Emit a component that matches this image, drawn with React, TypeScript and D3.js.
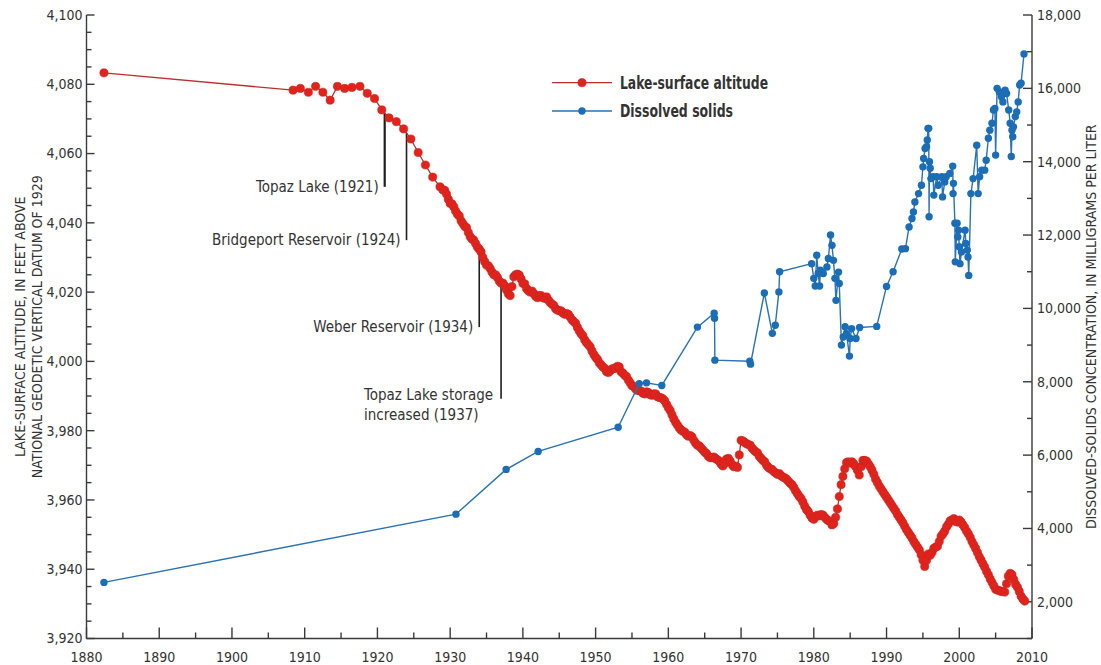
import React from "react";
import * as d3 from "d3";

// Lake-surface altitude, feet above NGVD 1929 — early annual readings
const lakeEarlyYears = [
  1882.4, 1908.4, 1909.4, 1910.5, 1911.5, 1912.5, 1913.5, 1914.5, 1915.5, 1916.5,
  1917.6, 1918.6, 1919.6, 1920.6, 1921.6, 1922.6, 1923.6, 1924.6, 1925.6, 1926.6,
  1927.6, 1928.6,
];
const lakeEarlyAltitudes = [
  4083.3, 4078.3, 4078.8, 4077.7, 4079.4, 4077.7, 4075.4, 4079.4, 4078.8, 4079.1,
  4079.4, 4077.4, 4075.9, 4072.6, 4070.3, 4069.2, 4067.1, 4064.2, 4060.3, 4056.7,
  4053.2, 4050.4,
];

// Quarterly record from 1929: [year, Q1, Q2, Q3, Q4]
const lakeQuarterly: number[][] = [
  [1929, 4049.5, 4049.4, 4048.3, 4046.8],
  [1930, 4045.6, 4045.5, 4044.6, 4043.4],
  [1931, 4042.5, 4042.0, 4040.6, 4039.8],
  [1932, 4039.0, 4038.6, 4037.2, 4036.0],
  [1933, 4035.3, 4035.0, 4034.0, 4033.0],
  [1934, 4032.4, 4031.6, 4030.0, 4028.8],
  [1935, 4027.8, 4027.6, 4026.8, 4025.8],
  [1936, 4025.0, 4025.0, 4024.2, 4023.2],
  [1937, 4022.6, 4022.6, 4021.8, 4020.6],
  [1938, 4019.5, 4019.0, 4021.6, 4024.4],
  [1939, 4025.0, 4025.2, 4024.9, 4023.8],
  [1940, 4022.5, 4022.4, 4021.0, 4020.4],
  [1941, 4020.0, 4020.3, 4019.6, 4018.8],
  [1942, 4018.4, 4019.0, 4019.0, 4018.4],
  [1943, 4018.2, 4018.6, 4017.7, 4017.0],
  [1944, 4016.5, 4016.2, 4015.2, 4014.8],
  [1945, 4014.6, 4014.6, 4014.0, 4013.6],
  [1946, 4013.8, 4013.6, 4012.8, 4012.0],
  [1947, 4011.5, 4011.0, 4009.8, 4008.8],
  [1948, 4008.0, 4007.4, 4006.2, 4005.4],
  [1949, 4004.8, 4004.2, 4003.0, 4002.0],
  [1950, 4001.2, 4000.6, 3999.6, 3999.0],
  [1951, 3998.4, 3998.0, 3997.0, 3996.8],
  [1952, 3997.3, 3997.8, 3998.0, 3998.0],
  [1953, 3998.6, 3998.4, 3997.0, 3996.6],
  [1954, 3996.0, 3995.6, 3994.6, 3993.8],
  [1955, 3993.0, 3992.8, 3992.0, 3991.6],
  [1956, 3991.6, 3991.4, 3990.8, 3990.6],
  [1957, 3991.2, 3991.0, 3990.4, 3990.2],
  [1958, 3990.6, 3990.6, 3989.8, 3989.6],
  [1959, 3989.5, 3989.2, 3988.6, 3987.6],
  [1960, 3986.6, 3985.8, 3984.6, 3983.4],
  [1961, 3982.4, 3981.6, 3980.8, 3980.2],
  [1962, 3979.8, 3979.6, 3978.8, 3978.4],
  [1963, 3978.6, 3978.2, 3977.2, 3976.4],
  [1964, 3975.8, 3975.6, 3975.0, 3974.4],
  [1965, 3973.8, 3973.4, 3972.6, 3972.2],
  [1966, 3972.2, 3972.4, 3971.9, 3971.6],
  [1967, 3971.2, 3970.4, 3969.8, 3970.6],
  [1968, 3971.8, 3972.0, 3971.2, 3970.2],
  [1969, 3969.6, 3969.8, 3969.4, 3973.0],
  [1970, 3977.2, 3977.0, 3976.6, 3976.2],
  [1971, 3976.0, 3975.8, 3975.0, 3974.4],
  [1972, 3973.9, 3973.6, 3972.6, 3972.0],
  [1973, 3971.4, 3971.0, 3970.0, 3969.4],
  [1974, 3969.0, 3968.8, 3968.2, 3967.8],
  [1975, 3967.4, 3967.6, 3967.0, 3966.6],
  [1976, 3966.4, 3966.0, 3965.4, 3964.8],
  [1977, 3964.4, 3963.6, 3962.6, 3961.8],
  [1978, 3961.0, 3960.4, 3959.4, 3958.2],
  [1979, 3957.2, 3956.6, 3955.6, 3954.8],
  [1980, 3954.4, 3955.2, 3955.6, 3955.4],
  [1981, 3955.8, 3955.6, 3955.0, 3954.4],
  [1982, 3954.0, 3953.8, 3952.8, 3953.2],
  [1983, 3955.0, 3957.4, 3961.0, 3964.4],
  [1984, 3966.8, 3969.0, 3970.8, 3971.0],
  [1985, 3970.6, 3971.0, 3970.4, 3969.6],
  [1986, 3968.6, 3967.2, 3969.6, 3971.4],
  [1987, 3971.4, 3971.2, 3970.4, 3969.6],
  [1988, 3968.6, 3967.4, 3966.0, 3965.0],
  [1989, 3964.0, 3963.2, 3962.4, 3961.6],
  [1990, 3960.8, 3960.0, 3959.2, 3958.4],
  [1991, 3957.6, 3956.8, 3955.8, 3955.0],
  [1992, 3954.2, 3953.4, 3952.4, 3951.4],
  [1993, 3950.6, 3949.8, 3949.0, 3948.0],
  [1994, 3947.2, 3946.4, 3945.6, 3944.2],
  [1995, 3942.6, 3940.8, 3942.6, 3944.4],
  [1996, 3944.0, 3944.8, 3946.0, 3946.4],
  [1997, 3946.6, 3948.0, 3949.5, 3950.2],
  [1998, 3951.0, 3952.2, 3953.0, 3954.0],
  [1999, 3954.2, 3954.6, 3953.8, 3953.6],
  [2000, 3954.2, 3953.6, 3952.8, 3952.0],
  [2001, 3951.0, 3950.2, 3949.2, 3948.0],
  [2002, 3947.0, 3946.0, 3944.8, 3943.6],
  [2003, 3942.6, 3941.6, 3940.6, 3939.4],
  [2004, 3938.4, 3937.2, 3936.2, 3935.2],
  [2005, 3934.2, 3934.0, 3933.8, 3933.6],
  [2006, 3933.6, 3933.4, 3935.8, 3938.0],
  [2007, 3938.8, 3938.4, 3937.0, 3935.6],
  [2008, 3934.8, 3933.6, 3932.2, 3931.4],
  [2009, 3930.8],
];

// Dissolved-solids concentration, milligrams per liter
const solidsYears = [
  1882.4, 1930.8, 1937.7, 1942.1, 1953.1, 1956.0, 1957.0, 1959.1, 1964.0, 1966.3,
  1966.35, 1966.4, 1971.2, 1971.3, 1973.2, 1974.3, 1974.7, 1975.2, 1975.3, 1979.7,
  1980.0, 1980.2, 1980.4, 1980.6, 1980.8, 1980.9, 1981.3, 1981.8, 1982.0, 1982.3,
  1982.5, 1982.7, 1982.9, 1983.05, 1983.4, 1983.5, 1983.8, 1984.05, 1984.3, 1984.5,
  1984.9, 1985.0, 1985.2, 1985.8, 1986.3, 1988.65, 1990.0, 1990.9, 1992.1, 1992.6,
  1993.1, 1993.5, 1993.7, 1993.9, 1994.4, 1994.8, 1995.0, 1995.1, 1995.3, 1995.5,
  1995.6, 1995.7, 1995.8, 1995.85, 1995.9, 1996.0, 1996.1, 1996.4, 1996.5, 1996.9,
  1997.1, 1997.6, 1997.7, 1998.0, 1998.2, 1998.7, 1999.1, 1999.15, 1999.2, 1999.4,
  1999.45, 1999.7, 1999.8, 1999.9, 2000.0, 2000.1, 2000.3, 2000.8, 2000.9, 2001.1,
  2001.2, 2001.3, 2001.6, 2001.9, 2002.4, 2002.6, 2002.8, 2003.1, 2003.5, 2003.7,
  2004.0, 2004.2, 2004.5, 2004.7, 2004.9, 2005.0, 2005.2, 2005.5, 2005.8, 2006.0,
  2006.3, 2006.5, 2006.8, 2007.0, 2007.15, 2007.25, 2007.35, 2007.45, 2007.7, 2007.9,
  2008.1, 2008.3, 2008.5, 2008.9,
];
const solidsValues = [
  2530, 4390, 5610, 6100, 6760, 7950, 7970, 7900, 9490, 9870,
  9730, 8590, 8560, 8480, 10420, 9320, 9540, 10450, 11000, 11220,
  10820, 10610, 11450, 10950, 10610, 11040, 10950, 11130, 11360, 12000,
  11720, 11310, 10820, 10220, 10990, 10680, 9000, 9220, 9500, 9310,
  8700, 9180, 9450, 9180, 9480, 9510, 10600, 11000, 11620, 11630,
  12220, 12450, 12630, 12900, 13130, 13360, 13860, 14090, 14360, 14410,
  14590, 14910, 14910, 12500, 14000, 13820, 13540, 13590, 13090, 13590,
  13360, 13590, 13040, 13450, 13590, 13680, 13880, 13130, 13410, 12320,
  11270, 12320, 11950, 12130, 11680, 11220, 11540, 12130, 11770, 11590,
  11400, 10900, 13130, 13540, 14450, 13130, 13590, 13770, 13770, 14040,
  14640, 14860, 15050, 15410, 15450, 14180, 16000, 15910, 15770, 15630,
  15950, 15860, 15410, 15050, 14140, 14860, 14680, 14950, 15230, 15360,
  15630, 16090, 16140, 16940,
];

// Reservoir events marked along the altitude curve
const eventYears = [1921, 1924, 1934, 1937];
const eventLabels = [
  ["Topaz Lake (1921)"],
  ["Bridgeport Reservoir (1924)"],
  ["Weber Reservoir (1934)"],
  ["Topaz Lake storage", "increased (1937)"],
];

const legendLabels = ["Lake-surface altitude", "Dissolved solids"];
const leftTitle = ["LAKE-SURFACE ALTITUDE, IN FEET ABOVE", "NATIONAL GEODETIC VERTICAL DATUM OF 1929"];
const rightTitle = "DISSOLVED-SOLIDS CONCENTRATION, IN MILLIGRAMS PER LITER";

// Layout
const WIDTH = 1101;
const HEIGHT = 665;
const PLOT = { left: 86.5, right: 1032, top: 15, bottom: 638.5 };
const FONT = "'Liberation Sans Narrow', 'Arial Narrow', 'DejaVu Sans Condensed', sans-serif";
const TEXT = "#333333";
const AXIS = "#3a3a3a";
const RED = "#e2231c";
const RED_EDGE = "#c8251e";
const RED_LINE = "#b8312b";
const BLUE = "#1b6db5";
const BLUE_LINE = "#2a72b3";
const DOT_R = 4.1;

// Annotation layout: lower end of each leader line (feet), stroke width
const eventLayout = [
  { bottom: 4050.4, width: 2.2 },
  { bottom: 4035.0, width: 1.6 },
  { bottom: 4009.9, width: 1.6 },
  { bottom: 3989.2, width: 1.6 },
];

export default function App() {
  const x = d3.scaleLinear().domain([1880, 2010]).range([PLOT.left, PLOT.right]);
  const yL = d3.scaleLinear().domain([3920, 4100]).range([PLOT.bottom, PLOT.top]);
  const yR = d3.scaleLinear().domain([1000, 18000]).range([PLOT.bottom, PLOT.top]);

  const lake: [number, number][] = lakeEarlyYears.map((t, i) => [t, lakeEarlyAltitudes[i]] as [number, number]);
  lakeQuarterly.forEach(([yr, ...vals]) => {
    vals.forEach((v, q) => lake.push([yr + q / 4, v]));
  });
  const solids = solidsYears.map((t, i) => [t, solidsValues[i]] as [number, number]);

  const lakeLine = d3.line<[number, number]>().x((d) => x(d[0])).y((d) => yL(d[1]))(lake) || "";
  const solidsLine = d3.line<[number, number]>().x((d) => x(d[0])).y((d) => yR(d[1]))(solids) || "";

  const altAt = d3.scaleLinear().domain(lake.map((d) => d[0])).range(lake.map((d) => d[1]));

  const xTicks = d3.range(1880, 2010.1, 5);
  const yLTicks = d3.range(3920, 4100.1, 5);
  const yRTicks = d3.range(1000, 18000.1, 1000);
  const fmt = d3.format(",");

  return (
    <svg width={WIDTH} height={HEIGHT} style={{ display: "block", position: "absolute", left: 0, top: 0, background: "#fff" }}
      fontFamily={FONT}>
      <rect width={WIDTH} height={HEIGHT} fill="#fff" />

      {/* axes */}
      <g stroke={AXIS} strokeWidth={1.4} fill="none">
        <line x1={PLOT.left} x2={PLOT.left} y1={PLOT.top} y2={PLOT.bottom} />
        <line x1={PLOT.right} x2={PLOT.right} y1={PLOT.top} y2={PLOT.bottom} />
        <line x1={PLOT.left} x2={PLOT.right} y1={PLOT.bottom} y2={PLOT.bottom} />
        {xTicks.map((t) => {
          const major = t % 10 === 0;
          return <line key={"xt" + t} x1={x(t)} x2={x(t)} y1={PLOT.bottom} y2={PLOT.bottom - (major ? 11 : 6)} />;
        })}
        {yLTicks.map((v) => {
          const major = v % 20 === 0;
          return <line key={"yl" + v} x1={PLOT.left} x2={PLOT.left + (major ? 8 : 5)} y1={yL(v)} y2={yL(v)} />;
        })}
        {yRTicks.map((v) => {
          const major = v % 2000 === 0;
          return <line key={"yr" + v} x1={PLOT.right} x2={PLOT.right - (major ? 9 : 5)} y1={yR(v)} y2={yR(v)} />;
        })}
      </g>

      {/* tick labels */}
      <g fill={TEXT} fontSize={14}>
        {xTicks.filter((t) => t % 10 === 0).map((t) => (
          <text key={"xl" + t} x={x(t)} y={662} textAnchor="middle">{t}</text>
        ))}
        {yLTicks.filter((v) => v % 20 === 0).map((v) => (
          <text key={"yll" + v} x={PLOT.left - 4} y={yL(v)} dy="0.35em" textAnchor="end">{fmt(v)}</text>
        ))}
        {yRTicks.filter((v) => v % 2000 === 0).map((v) => (
          <text key={"yrl" + v} x={PLOT.right + 5} y={yR(v)} dy="0.35em" textAnchor="start">{fmt(v)}</text>
        ))}
      </g>

      {/* axis titles */}
      <g fill={TEXT} fontSize={14} textAnchor="middle">
        <text transform={`translate(25, ${(PLOT.top + PLOT.bottom) / 2}) rotate(-90)`}>{leftTitle[0]}</text>
        <text transform={`translate(42, ${(PLOT.top + PLOT.bottom) / 2}) rotate(-90)`}>{leftTitle[1]}</text>
        <text transform={`translate(1096, ${(PLOT.top + PLOT.bottom) / 2}) rotate(-90)`}>{rightTitle}</text>
      </g>

      {/* event leader lines and labels */}
      <g fill={TEXT} fontSize={15}>
        {eventYears.map((yr, i) => {
          const lay = eventLayout[i];
          const lx = x(yr);
          const top = yL(altAt(yr));
          const bot = yL(lay.bottom);
          const lines = eventLabels[i];
          return (
            <g key={"ev" + yr}>
              <line x1={lx} x2={lx} y1={top} y2={bot} stroke="#1e1e1e" strokeWidth={lay.width} />
              {lines.length === 1 ? (
                <text x={lx - 6} y={bot} dy="0.35em" textAnchor="end">{lines[0]}</text>
              ) : (
                lines.map((s, j) => (
                  <text key={j} x={lx - 137} y={bot - 4 + j * 20} dy="0.35em" textAnchor="start">{s}</text>
                ))
              )}
            </g>
          );
        })}
      </g>

      {/* lake-surface altitude */}
      <path d={lakeLine} fill="none" stroke={RED_LINE} strokeWidth={1.3} />
      <g fill={RED} stroke={RED_EDGE} strokeWidth={0.6}>
        {lake.map((d, i) => (
          <circle key={"l" + i} cx={x(d[0])} cy={yL(d[1])} r={DOT_R} />
        ))}
      </g>

      {/* dissolved solids */}
      <path d={solidsLine} fill="none" stroke={BLUE_LINE} strokeWidth={1.4} />
      <g fill={BLUE}>
        {solids.map((d, i) => (
          <circle key={"s" + i} cx={x(d[0])} cy={yR(d[1])} r={3.7} />
        ))}
      </g>

      {/* legend */}
      <g>
        <line x1={552} x2={612} y1={82.7} y2={82.7} stroke={RED_LINE} strokeWidth={1.3} />
        <circle cx={582} cy={82.7} r={DOT_R} fill={RED} stroke={RED_EDGE} strokeWidth={0.6} />
        <line x1={552} x2={612} y1={111} y2={111} stroke={BLUE_LINE} strokeWidth={1.4} />
        <circle cx={582} cy={111} r={3.7} fill={BLUE} />
        <text x={620} y={82.7} dy="0.35em" fontSize={17} fontWeight="bold" fill={TEXT}
          textLength={148} lengthAdjust="spacingAndGlyphs">{legendLabels[0]}</text>
        <text x={620} y={111} dy="0.35em" fontSize={17} fontWeight="bold" fill={TEXT}
          textLength={113} lengthAdjust="spacingAndGlyphs">{legendLabels[1]}</text>
      </g>
    </svg>
  );
}
